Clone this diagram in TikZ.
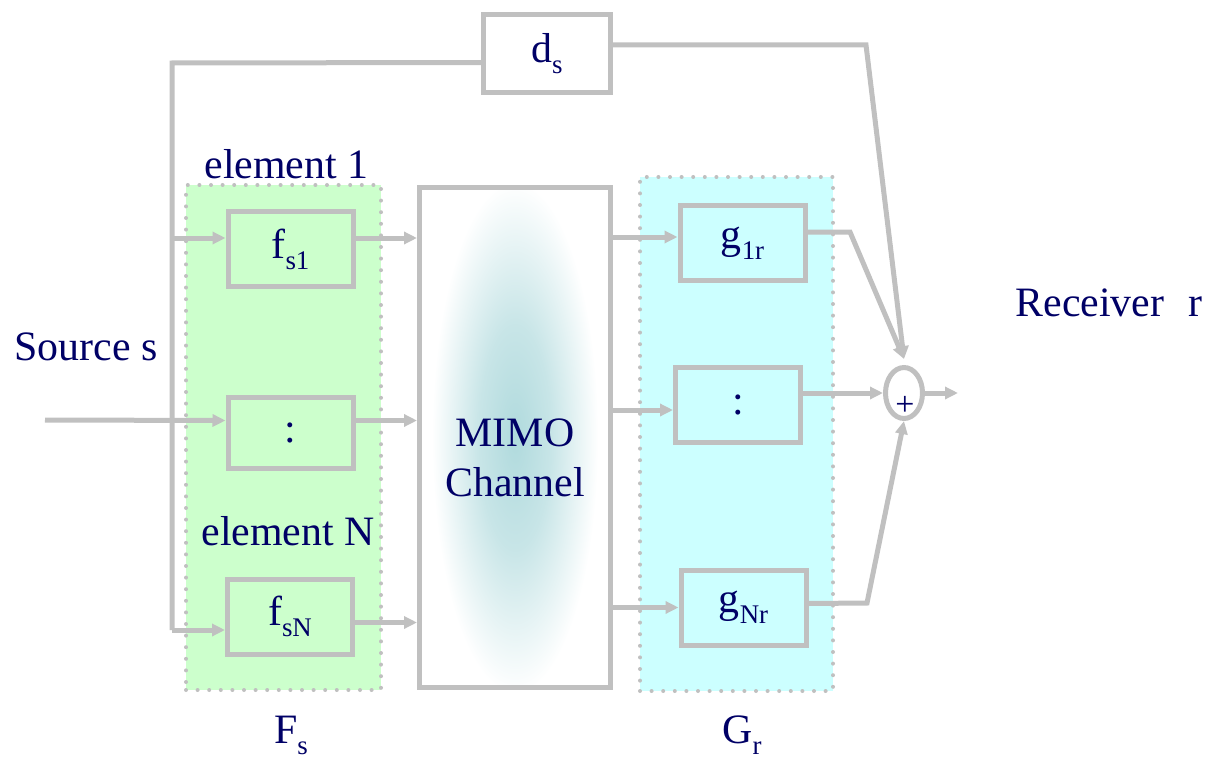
\documentclass[tikz,border=0pt]{standalone}
\usepackage{fontspec}
\setmainfont{Liberation Serif}
\usepackage{xcolor}
\usepackage{tikz}
\usetikzlibrary{arrows.meta,positioning,calc,shapes.geometric}

\definecolor{wiregray}{RGB}{192,192,192}
\definecolor{labelblue}{RGB}{0,0,102}
\definecolor{greenbg}{RGB}{204,255,204}
\definecolor{cyanbg}{RGB}{204,255,255}
\definecolor{mimoteal}{RGB}{176,218,221}

\pgfdeclareradialshading{mimoglow}{\pgfpoint{0bp}{0bp}}{color(0bp)=(mimoteal);
  color(7bp)=(mimoteal!70!white); color(16bp)=(white); color(50bp)=(white)}

\newcommand{\subtx}[1]{\raisebox{-11bp}{\fontsize{27}{29}\selectfont #1}}

\tikzset{
  wire/.style={draw=wiregray, line width=5bp},
  arr/.style={wire, -{Triangle[length=13bp,width=12bp]}},
  blk/.style={draw=wiregray, line width=5bp, minimum width=125bp, minimum height=75bp,
    inner sep=0pt, text=labelblue, font=\fontsize{42}{50}\selectfont},
  grp/.style={draw=wiregray, line width=4bp, line cap=round, dash pattern=on 0bp off 11.6bp,
    inner sep=0pt},
  lbl/.style={text=labelblue, font=\fontsize{42}{50}\selectfont, inner sep=0pt},
}

\begin{document}
\begin{tikzpicture}[x=1bp, y=-1bp]
    \useasboundingbox (0,0) rectangle (1212,760);

    \node[grp, fill=greenbg, minimum width=195bp, minimum height=505bp] (Fs) at (283.5,437.5) {};
    \node[grp, fill=cyanbg, minimum width=193bp, minimum height=514bp] (Gr) at (736.5,434) {};

    \node[blk, minimum width=127bp, minimum height=78bp] (ds) at (547,53.5) {d\subtx{s}};
    \node[blk] (fs1) at (290.5,249) {f\subtx{s1}};
    \node[blk, minimum height=71bp] (fsd) at (290.5,432.5) {:};
    \node[blk] (fsN) at (290,616.5) {f\subtx{sN}};
    \node[blk, minimum width=191bp, minimum height=500bp, fill=white,
      path picture={\shade[shading=mimoglow]
        (path picture bounding box.center) ellipse (130bp and 400bp);}] (mimo) at (515,437.5) {};
    \node[lbl, align=center] (mimotxt) at (515,458) {MIMO\\Channel};
    \node[blk] (g1r) at (742.5,243) {g\subtx{1r}};
    \node[blk] (gd) at (738,405) {:};
    \node[blk] (gNr) at (743.5,607.5) {g\subtx{Nr}};
    \node[ellipse, draw=wiregray, line width=5bp, minimum width=37bp, minimum height=51bp,
      inner sep=0pt] (sum) at (904,393) {};
    \node[lbl, font=\fontsize{34}{36}\selectfont] (plus) at (905,406) {+};

    \node[lbl] (src) at (86,347) {Source s};
    \node[lbl] (rcv) at (1109,303) {Receiver\hspace{24bp}r};
    \node[lbl] (el1) at (286.5,164) {element 1};
    \node[lbl] (elN) at (288,531) {element N};
    \node[lbl] (Fslbl) at (291,735) {F\subtx{s}};
    \node[lbl] (Grlbl) at (742,735) {G\subtx{r}};

    \coordinate (in) at (45,420);
    \coordinate (busT) at (172,63);
    \coordinate (busB) at (172,630);
    \coordinate (dsK) at (866,45);
    \coordinate (g1K) at (850,232);
    \coordinate (gNK) at (867,603);
    \coordinate (rx) at (958,393);
    \coordinate (sumTop) at ([yshift=6bp]sum.north);

    \coordinate (fs1i) at ([yshift=11bp]fs1.west);
    \coordinate (fsdi) at ([yshift=12bp]fsd.west);
    \coordinate (fsNo) at ([yshift=-6bp]fsN.east);
    \coordinate (g1i) at ([yshift=6bp]g1r.west);
    \coordinate (gdi) at ([yshift=-5bp]gd.west);

    \draw[wire] (busB) -- (busT) -- ([yshift=-9bp]ds.west);
    \draw[arr] (busT |- fs1i) -- (fs1i);
    \draw[arr] (in) -- (fsdi);
    \draw[arr] (busB) -- (busB -| fsN.west);

    \draw[arr] (fs1i -| fs1.east) -- (fs1i -| mimo.west);
    \draw[arr] (fsdi -| fsd.east) -- (fsdi -| mimo.west);
    \draw[arr] (fsNo) -- (fsNo -| mimo.west);

    \draw[arr] (g1i -| mimo.east) -- (g1i);
    \draw[arr] (gdi -| mimo.east) -- (gdi);
    \draw[arr] (gNr.west -| mimo.east) -- (gNr.west);

    \draw[arr] ([yshift=8.5bp]ds.east) -- (dsK) -- (sumTop);
    \draw[arr] ([yshift=11bp]g1r.east) -- (g1K) -- (sumTop);
    \draw[arr] (gd.east |- sum.west) -- (sum.west);
    \draw[arr] ([yshift=4bp]gNr.east) -- (gNK) -- (sum.south);
    \draw[arr] (sum.east) -- (rx);
\end{tikzpicture}
\end{document}
